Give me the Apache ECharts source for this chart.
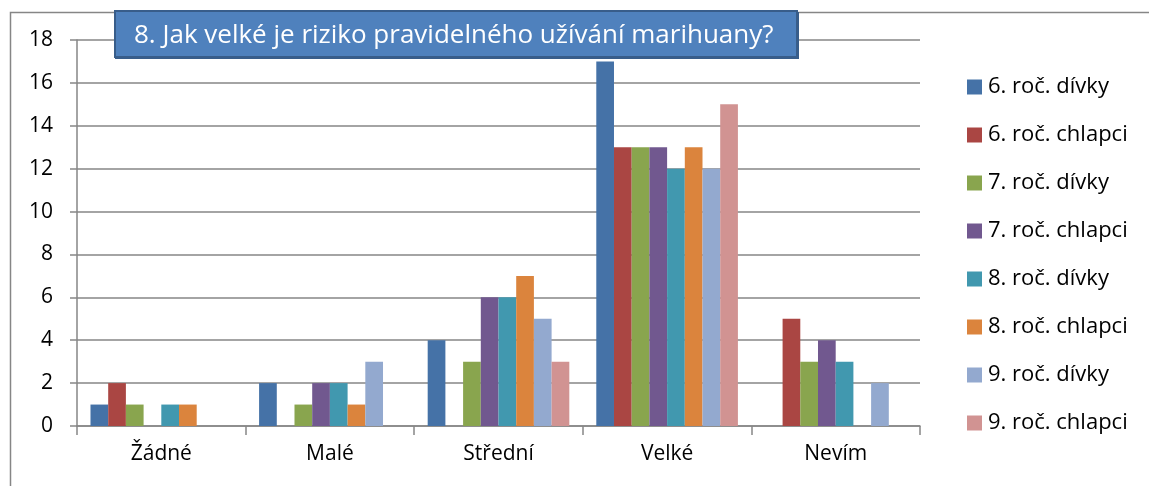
<!DOCTYPE html>
<html><head><meta charset="utf-8">
<script src="https://cdn.jsdelivr.net/npm/echarts@6/dist/echarts.min.js"></script>
<style>html,body{margin:0;padding:0;background:#fff}#c{width:1149px;height:486px}</style>
</head><body><div id="c"></div>
<script>
const categories = ['Žádné', 'Malé', 'Střední', 'Velké', 'Nevím'];
const seriesNames = ['6. roč. dívky', '6. roč. chlapci', '7. roč. dívky', '7. roč. chlapci', '8. roč. dívky', '8. roč. chlapci', '9. roč. dívky', '9. roč. chlapci'];
const g6Girls = [1, 2, 4, 17, 0];
const g6Boys = [2, 0, 0, 13, 5];
const g7Girls = [1, 1, 3, 13, 3];
const g7Boys = [0, 2, 6, 13, 4];
const g8Girls = [1, 2, 6, 12, 3];
const g8Boys = [1, 1, 7, 13, 0];
const g9Girls = [0, 3, 5, 12, 2];
const g9Boys = [0, 0, 3, 15, 0];
const yTicks = [0, 2, 4, 6, 8, 10, 12, 14, 16, 18];
const titleText = '8. Jak velké je riziko pravidelného užívání marihuany?';

const values = [g6Girls, g6Boys, g7Girls, g7Boys, g8Girls, g8Boys, g9Girls, g9Boys];
const colors = ['#4572A7', '#AA4643', '#89A54E', '#71588F', '#4198AF', '#DB843D', '#93A9CF', '#D19392'];
const FONT = 'Open Sans';

const chart = echarts.init(document.getElementById('c'), null, {renderer: 'canvas'});
chart.setOption({
  animation: false,
  color: colors,
  textStyle: {fontFamily: FONT},
  grid: {left: 77, right: 229, top: 40, bottom: 60, containLabel: false},
  legend: {
    orient: 'vertical', left: 962, top: 71, itemWidth: 15, itemHeight: 15, itemGap: 26,
    icon: 'rect',
    textStyle: {fontFamily: FONT, fontSize: 22, color: '#000', padding: [0, 0, 0, 1]},
    data: seriesNames
  },
  xAxis: {
    type: 'category', data: categories,
    axisLine: {lineStyle: {color: '#868686', width: 1.5}},
    axisTick: {show: true, length: 9, lineStyle: {color: '#868686', width: 1.5}},
    axisLabel: {fontFamily: FONT, fontSize: 21, color: '#000', margin: 18}
  },
  yAxis: {
    type: 'value', min: yTicks[0], max: yTicks[yTicks.length - 1], interval: 2,
    axisLine: {show: true, lineStyle: {color: '#868686', width: 1.5}},
    axisTick: {show: true, length: 7, lineStyle: {color: '#868686', width: 1.5}},
    splitLine: {lineStyle: {color: '#868686', width: 1.5}},
    axisLabel: {fontFamily: FONT, fontSize: 21, color: '#000', margin: 24}
  },
  series: seriesNames.map((n, i) => ({
    name: n, type: 'bar', data: values[i], barGap: '0%', barCategoryGap: '16%',
    itemStyle: {color: colors[i]}
  })),
  graphic: [
    {type: 'rect', left: 8, top: 10, shape: {width: 1200, height: 500}, style: {fill: 'none', stroke: '#868686', lineWidth: 1.5}, z: -1},
    {type: 'rect', left: 115, top: 12, shape: {width: 684, height: 47}, style: {fill: '#385D8A'}, z: 10},
    {type: 'rect', left: 114, top: 10, shape: {width: 682, height: 46}, style: {fill: '#4F81BD', stroke: '#385D8A', lineWidth: 2}, z: 11},
    {type: 'text', x: 134, y: 36, style: {text: titleText, fill: '#fff', font: '26px "Open Sans"', verticalAlign: 'middle'}, z: 12}
  ]
});
</script></body></html>
